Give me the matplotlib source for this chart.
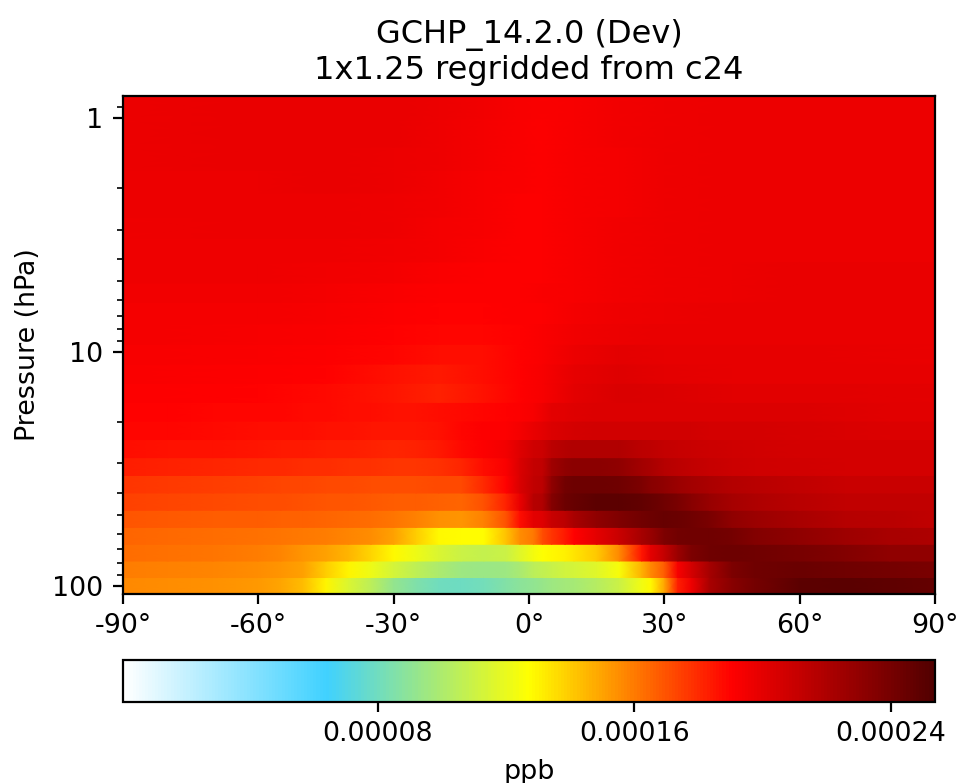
import numpy as np
import matplotlib
matplotlib.use("Agg")
import matplotlib.pyplot as plt
from matplotlib.colors import LinearSegmentedColormap, Normalize
from matplotlib.ticker import FixedLocator, NullFormatter, FixedFormatter

TITLE = "GCHP_14.2.0 (Dev)\n1x1.25 regridded from c24"
UNIT_SCALE = 1e-5  # row values below are in units of 1e-5 ppb
VMIN = 0.07 * UNIT_SCALE
VMAX = 25.37 * UNIT_SCALE

pressure_edges = [108.66, 92.37, 78.51, 66.6, 56.39, 47.64, 40.18, 33.81, 28.37, 23.73, 19.79,
                  16.46, 13.64, 11.28, 9.29, 7.59, 6.14, 5.07, 4.12, 3.26, 2.65, 2.09, 1.67, 1.33, 1.01, 0.805]

lat_low = [-90,-80,-70,-60,-55,-50,-45,-40,-35,-30,-25,-20,-15,-10,-5,-2,1,3,5,8,10,15,20,25,27,30,33,36,40,45,50,60,70,80,90]
lat_high = [-90,-60,-45,-30,-20,-10,-2,3,10,20,30,45,60,90]

r00 = [15.6,15.5,15.4,15.2,14.9,14.4,13.0,11.5,10.5,9.2,8.5,8.0,7.9,8.1,8.6,8.9,9.1,9.3,9.5,9.7,9.8,10.3,11.0,12.3,12.9,14.9,18.3,19.6,22.2,23.3,24.0,24.9,25.0,24.8,24.6]
r01 = [15.9,15.8,15.7,15.5,15.3,15.0,14.0,13.0,12.2,11.3,10.6,10.0,9.5,9.4,9.5,9.9,10.5,10.7,10.9,11.2,11.3,11.7,12.5,14.6,15.6,16.7,19.3,20.6,22.3,23.7,24.2,24.4,24.2,24.0,23.8]
r02 = [16.3,16.2,16.1,15.9,15.7,15.3,15.0,14.5,13.8,12.9,12.2,11.5,11.0,10.8,11.0,11.7,12.4,12.7,12.9,13.1,13.4,14.1,15.6,18.5,20.0,21.2,22.7,23.7,24.2,24.3,24.2,23.9,23.5,23.0,23.0]
r03 = [16.5,16.4,16.3,16.2,16.1,16.0,15.9,15.7,15.5,15.0,14.0,12.9,12.8,12.8,14.3,15.5,16.0,17.1,17.7,18.4,19.0,20.0,21.0,22.3,22.8,23.7,24.1,24.2,24.2,24.0,23.5,23.0,22.6,22.2,22.0]
r04 = [16.9,16.8,16.7,16.7,16.6,16.6,16.5,16.4,16.3,16.1,15.8,15.4,15.3,15.8,17.0,18.7,20.0,20.2,21.0,21.5,22.2,23.0,23.6,24.1,24.3,24.5,24.4,24.2,23.8,23.0,22.7,22.2,21.7,21.6,21.3]
r05 = [17.4,17.3,17.2,17.1,17.1,17.0,16.9,16.9,16.8,16.7,16.7,16.6,16.5,17.0,18.2,19.8,21.7,21.9,23.4,24.3,24.5,24.9,24.9,24.7,24.5,24.2,23.8,23.3,22.8,22.3,22.0,21.6,21.3,21.3,21.3]
r06 = [17.7,17.6,17.5,17.4,17.3,17.3,17.2,17.2,17.1,17.1,17.1,17.2,17.2,18.0,19.0,20.4,21.3,21.5,23.0,24.1,24.3,24.3,24.2,23.7,23.3,23.0,22.7,22.4,22.1,21.8,21.6,21.3,21.0,21.0,21.0]
r07 = [18.3,18.2,18.1,18.0,18.0,17.9,17.9,17.8,17.8,17.7,17.7,17.8,18.1,18.7,19.2,20.4,21.2,21.3,22.5,23.0,23.2,23.2,23.0,22.4,22.2,21.7,21.5,21.3,21.1,20.9,20.8,20.7,20.6,20.6,20.6]
r08 = [18.7,18.6,18.6,18.5,18.4,18.4,18.3,18.3,18.2,18.1,18.2,18.4,18.8,19.1,19.5,20.2,20.8,20.9,21.5,21.8,21.9,21.9,21.9,21.5,21.4,21.2,21.1,21.0,20.9,20.8,20.7,20.6,20.6,20.6,20.6]
r09 = [18.9,18.9,18.8,18.7,18.7,18.7,18.6,18.6,18.5,18.5,18.5,18.6,18.9,19.1,19.1,19.4,19.8,20.0,20.3,20.5,20.6,20.7,20.7,20.7,20.7,20.7,20.7,20.7,20.6,20.6,20.6,20.5,20.4,20.3,20.3]
r10 = [19.0,19.0,18.9,18.9,18.9,18.8,18.8,18.7,18.7,18.6,18.6,18.7,18.8,18.9,19.0,19.1,19.3,19.6,20.0,20.1,20.2,20.3,20.3,20.3,20.3,20.3,20.3,20.3,20.3,20.3,20.3,20.3,20.2,20.1,20.1]

r11 = [19.1,19.0,18.8,18.5,18.2,18.6,19.0,19.3,20.0,20.4,20.3,20.1,20.1,20.0]
r12 = [19.2,19.1,19.0,18.6,18.4,18.7,19.0,19.3,19.9,20.2,20.0,19.9,19.9,19.9]
r13 = [19.3,19.2,19.1,18.9,18.7,18.7,19.0,19.2,19.7,20.0,19.9,19.9,19.9,19.8]
r14 = [19.4,19.3,19.2,19.0,18.9,18.9,19.0,19.2,19.5,19.7,19.8,19.8,19.8,19.8]
r15 = [19.4,19.4,19.3,19.1,19.0,19.0,19.1,19.1,19.4,19.6,19.7,19.8,19.8,19.8]
r16 = [19.5,19.5,19.4,19.2,19.1,19.1,19.1,19.2,19.3,19.5,19.6,19.7,19.8,19.8]
r17 = [19.6,19.6,19.5,19.4,19.2,19.1,19.1,19.1,19.3,19.5,19.6,19.7,19.8,19.8]
r18 = [19.6,19.6,19.6,19.5,19.4,19.2,19.1,19.1,19.3,19.5,19.6,19.7,19.7,19.7]
r19 = [19.6,19.7,19.7,19.6,19.4,19.3,19.1,19.1,19.3,19.5,19.6,19.7,19.7,19.7]
r20 = [19.7,19.7,19.7,19.6,19.5,19.3,19.1,19.1,19.3,19.4,19.6,19.7,19.7,19.7]
r21 = [19.7,19.7,19.8,19.7,19.5,19.3,19.2,19.1,19.3,19.4,19.6,19.7,19.7,19.7]
r22 = [19.7,19.8,19.8,19.7,19.6,19.4,19.2,19.1,19.3,19.4,19.6,19.7,19.7,19.7]
r23 = [19.7,19.8,19.8,19.8,19.6,19.4,19.2,19.1,19.3,19.5,19.6,19.7,19.7,19.7]
r24 = [19.7,19.8,19.8,19.8,19.7,19.5,19.3,19.2,19.3,19.5,19.6,19.7,19.7,19.7]

rows_low = [r00, r01, r02, r03, r04, r05, r06, r07, r08, r09, r10]
rows_high = [r11, r12, r13, r14, r15, r16, r17, r18, r19, r20, r21, r22, r23, r24]

x_ticks = [-90, -60, -30, 0, 30, 60, 90]
x_labels = ["-90°", "-60°", "-30°", "0°", "30°", "60°", "90°"]
y_ticks = [1, 10, 100]
y_labels = ["1", "10", "100"]
cbar_ticks = [8e-5, 16e-5, 24e-5]
cbar_labels = ["0.00008", "0.00016", "0.00024"]

cmap = LinearSegmentedColormap.from_list(
    "WhBlYlRd", [(1, 1, 1), (0.25, 0.82, 1), (1, 1, 0), (1, 0, 0), (0.32, 0, 0)], N=256)
norm = Normalize(VMIN, VMAX)

W, H = 960, 783
fig = plt.figure(figsize=(W / 200, H / 200), dpi=200)
ax = fig.add_axes([123 / W, 1 - 594 / H, (935 - 123) / W, (594 - 96) / H])
ax.set_yscale("log")

mesh = None
for i, row in enumerate(rows_low + rows_high):
    lats = lat_low if i < len(rows_low) else lat_high
    X = np.array([lats, lats], dtype=float)
    Y = np.array([[pressure_edges[i]] * len(lats), [pressure_edges[i + 1]] * len(lats)])
    C = np.array([row, row]) * UNIT_SCALE
    mesh = ax.pcolormesh(X, Y, C, shading="gouraud", cmap=cmap, norm=norm)

ax.set_xlim(-90, 90)
ax.set_ylim(pressure_edges[0], pressure_edges[-1])
ax.set_xticks(x_ticks, x_labels, fontsize=9.7)
ax.yaxis.set_major_locator(FixedLocator(y_ticks))
ax.yaxis.set_major_formatter(FixedFormatter(y_labels))
ax.yaxis.set_minor_formatter(NullFormatter())
ax.tick_params(axis="y", labelsize=9.7)
ax.set_ylabel("Pressure (hPa)", fontsize=9.7)
ax.set_title(TITLE, fontsize=11.5, pad=6)

cax = fig.add_axes([123 / W, 1 - 702 / H, (935 - 123) / W, (702 - 660) / H])
cb = fig.colorbar(mesh, cax=cax, orientation="horizontal")
cb.set_ticks(cbar_ticks, labels=cbar_labels)
cb.ax.tick_params(labelsize=9.7)
cb.set_label("ppb", fontsize=9.7)

fig.savefig("out.png", dpi=200)
